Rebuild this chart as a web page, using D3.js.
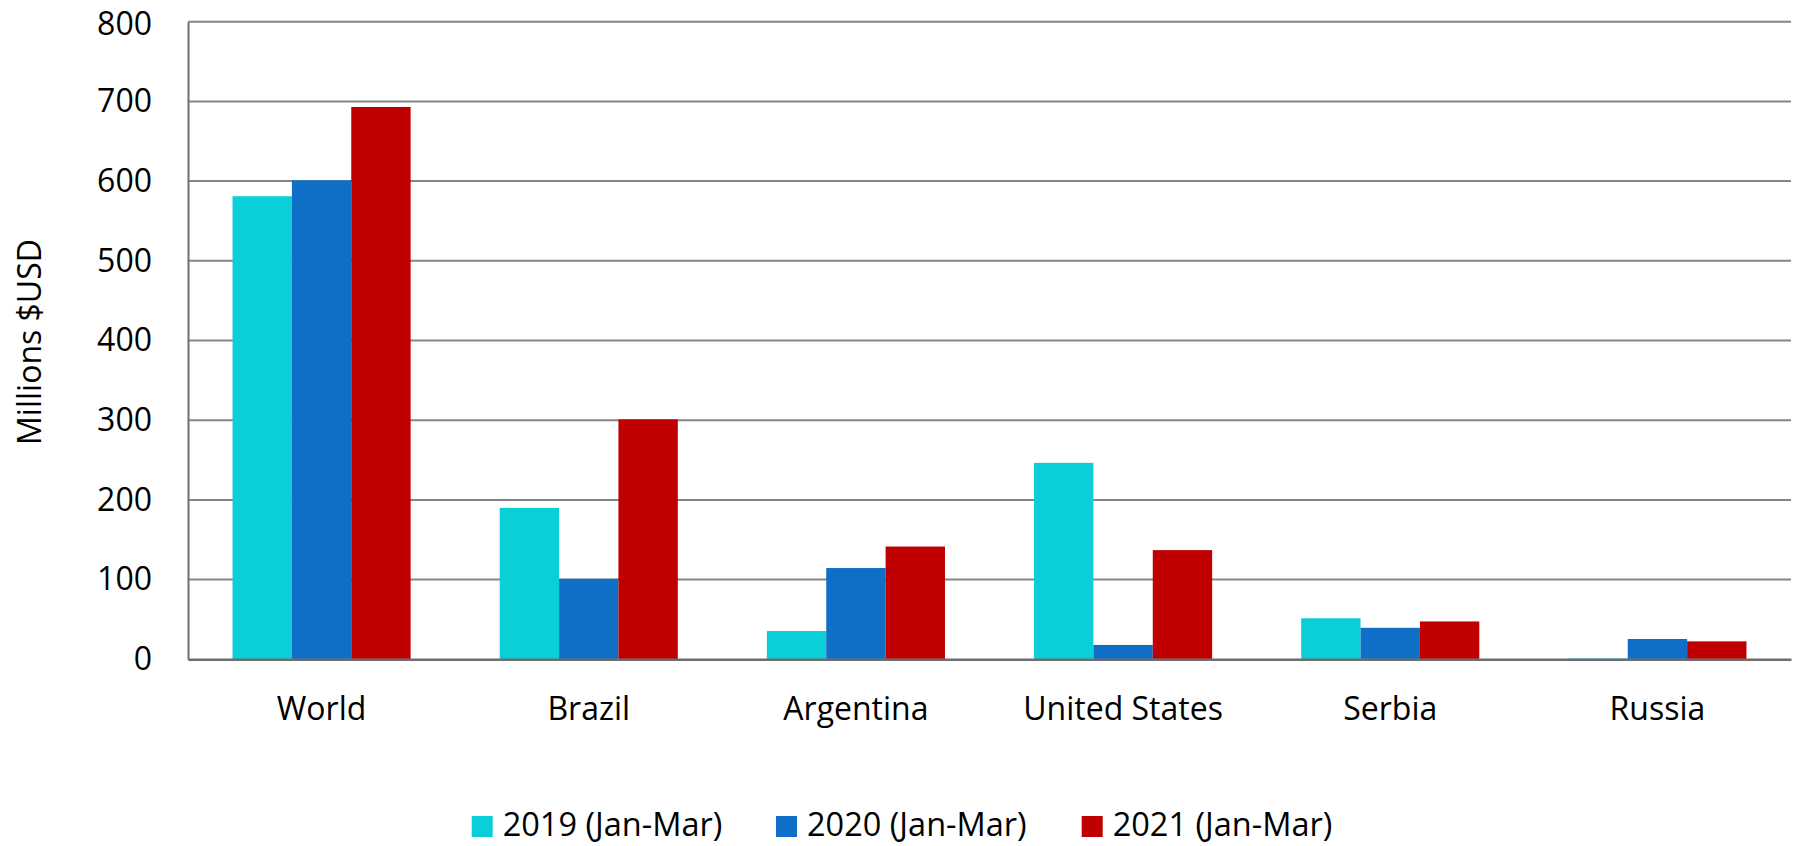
<!DOCTYPE html>
<html>
<head>
<meta charset="utf-8">
<script src="https://cdn.jsdelivr.net/npm/d3@7"></script>
<style>
  html, body { margin: 0; padding: 0; background: #fff; }
  svg { display: block; }
  text { font-family: "Open Sans", sans-serif; fill: #000; }
</style>
</head>
<body>
<svg id="chart" width="1801" height="846"></svg>
<script>
const categories = ["World", "Brazil", "Argentina", "United States", "Serbia", "Russia"];
const seriesNames = ["2019 (Jan-Mar)", "2020 (Jan-Mar)", "2021 (Jan-Mar)"];
const values2019 = [581, 190, 35.5, 246.5, 51.5, 1];
const values2020 = [601, 101, 114.5, 18, 39.5, 25.5];
const values2021 = [693, 301, 141.5, 137, 47.5, 22.5];
const yTicks = [0, 100, 200, 300, 400, 500, 600, 700, 800];
const colors = ["#0BCFD8", "#0F6FC6", "#C00000"];
const yTitle = "Millions $USD";

const series = [values2019, values2020, values2021];

const svg = d3.select("#chart");
const plotLeft = 188, plotRight = 1791, plotTop = 21.7, plotBottom = 659.3;

const x = d3.scaleBand().domain(categories).range([plotLeft, plotRight]).paddingInner(1/3).paddingOuter(1/6);
const xs = d3.scaleBand().domain(d3.range(series.length)).range([0, x.bandwidth()]);
const y = d3.scaleLinear().domain([0, 800]).range([plotBottom, plotTop]);

// gridlines
svg.append("g")
  .selectAll("line")
  .data(yTicks.filter(d => d > 0))
  .join("line")
  .attr("x1", plotLeft).attr("x2", plotRight)
  .attr("y1", d => y(d)).attr("y2", d => y(d))
  .attr("stroke", "#858585").attr("stroke-width", 2);

// y axis
const yAxis = svg.append("g")
  .attr("transform", `translate(${plotLeft},0)`)
  .call(d3.axisLeft(y).tickValues(yTicks).tickSize(0).tickPadding(36).tickFormat(d3.format("d")));
yAxis.select(".domain").attr("stroke", "#6e6e6e").attr("stroke-width", 2);
yAxis.selectAll("text").style("font-size", "32px").style("font-family", "'Open Sans', sans-serif").attr("fill", "#000");
// keep the top label's font box inside the picture
yAxis.selectAll(".tick").filter(d => d === 800).select("text").attr("y", 2.5);

// bars
const groups = svg.append("g")
  .selectAll("g")
  .data(series)
  .join("g")
  .attr("fill", (d, i) => colors[i]);
groups.each(function(vals, si) {
  d3.select(this).selectAll("rect")
    .data(vals)
    .join("rect")
    .attr("x", (d, ci) => x(categories[ci]) + xs(si))
    .attr("width", xs.bandwidth())
    .attr("y", d => y(d))
    .attr("height", d => y(0) - y(d));
});

// x axis
const xAxis = svg.append("g")
  .attr("transform", `translate(0,${plotBottom})`)
  .call(d3.axisBottom(x).tickSize(0).tickPadding(0).tickSizeOuter(0));
xAxis.select(".domain").attr("stroke", "#6e6e6e").attr("stroke-width", 2.5);
xAxis.selectAll("text")
  .style("font-size", "32px").style("font-family", "'Open Sans', sans-serif")
  .attr("fill", "#000")
  .attr("dy", null)
  .attr("y", 720 - plotBottom);

// y title
svg.append("text")
  .attr("transform", `translate(41,342) rotate(-90)`)
  .attr("text-anchor", "middle")
  .style("font-size", "32px")
  .text(yTitle);

// legend
const legendX = [471.7, 776, 1081.7];
const legend = svg.append("g")
  .selectAll("g")
  .data(seriesNames)
  .join("g")
  .attr("transform", (d, i) => `translate(${legendX[i]},0)`);
legend.append("rect")
  .attr("x", 0).attr("y", 816).attr("width", 21).attr("height", 21)
  .attr("fill", (d, i) => colors[i]);
legend.append("text")
  .attr("x", 31).attr("y", 836)
  .style("font-size", "32.5px")
  .text(d => d);
</script>
</body>
</html>
